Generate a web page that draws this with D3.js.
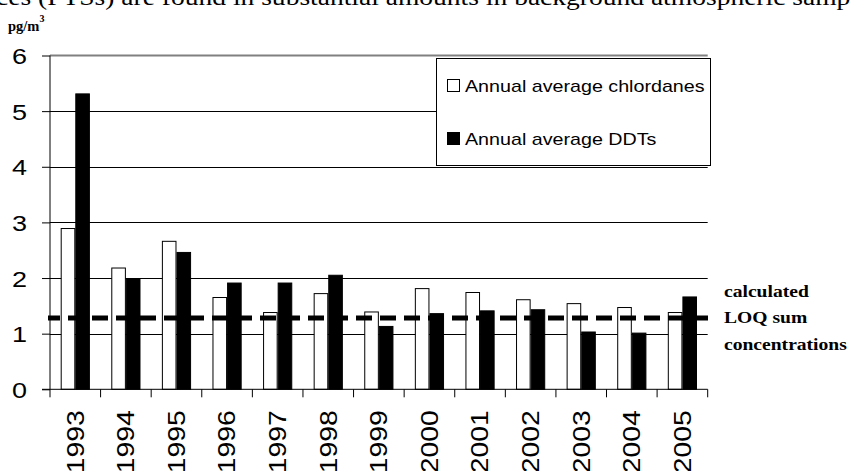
<!DOCTYPE html>
<html><head><meta charset="utf-8">
<script src="https://cdn.jsdelivr.net/npm/d3@7"></script>
<style>html,body{margin:0;padding:0;background:#fff;overflow:hidden}</style>
</head><body>
<svg id="chart" width="850" height="471"></svg>
<script>
const years = ["1993","1994","1995","1996","1997","1998","1999","2000","2001","2002","2003","2004","2005"];
const chlordanes = [2.89,2.18,2.66,1.65,1.38,1.72,1.39,1.81,1.74,1.61,1.54,1.47,1.38];
const ddts = [5.31,1.99,2.46,1.91,1.91,2.05,1.13,1.36,1.41,1.43,1.03,1.01,1.66];
const seriesNames = ["Annual average chlordanes","Annual average DDTs"];
const seriesFill = ["#ffffff","#000000"];
const yTicks = [0,1,2,3,4,5,6];
const loqValue = 1.28;
const loqLabel = ["calculated","LOQ sum","concentrations"];

const svg = d3.select("#chart");
const x0 = 50, x1 = 707.7, yTop = 55.5, yBot = 389.3;
const x = d3.scaleBand().domain(years).range([x0, x1]).paddingInner(0).paddingOuter(0);
const xs = d3.scaleBand().domain([0,1]).range([0, x.bandwidth()]).paddingInner(0).paddingOuter(0.733);
const y = d3.scaleLinear().domain([0,6]).range([yBot, yTop]);

// clipped document text at top
svg.append("text").attr("x",-4).attr("y",4.5)
  .attr("font-family","Liberation Serif, Times New Roman, serif").attr("font-size",23)
  .attr("textLength",862).attr("lengthAdjust","spacingAndGlyphs").attr("fill","#000")
  .text("ces (PTSs) are found in substantial amounts in background atmospheric sampl");

// unit label
const unit = svg.append("text").attr("x",8).attr("y",31)
  .attr("font-family","Liberation Serif, Times New Roman, serif").attr("font-weight","bold").attr("font-size",14.5);
unit.append("tspan").text("pg/m");
unit.append("tspan").attr("dy",-9).attr("font-size",10).text("3");

// gridlines
svg.append("g").selectAll("line").data(yTicks.filter(d=>d>0 && d<6)).join("line")
  .attr("x1",x0).attr("x2",x1).attr("y1",d=>Math.round(y(d))+0.5).attr("y2",d=>Math.round(y(d))+0.5)
  .attr("stroke","#000").attr("stroke-width",1);
svg.append("line").attr("x1",x0).attr("x2",x1).attr("y1",y(6)).attr("y2",y(6))
  .attr("stroke","#808080").attr("stroke-width",2);

// bars
const data = years.map((yr,i)=>({yr, vals:[chlordanes[i], ddts[i]]}));
const groups = svg.append("g").selectAll("g").data(data).join("g")
  .attr("transform",d=>`translate(${x(d.yr)},0)`);
groups.selectAll("rect").data(d=>d.vals.map((v,k)=>({v,k}))).join("rect")
  .attr("x",d=>xs(d.k)+0.5).attr("width",xs.bandwidth()-1)
  .attr("y",d=>y(d.v)).attr("height",d=>yBot-y(d.v))
  .attr("fill",d=>seriesFill[d.k]).attr("stroke","#000").attr("stroke-width",1);

// axes
const yAxis = d3.axisLeft(y).tickValues(yTicks).tickSize(8).tickFormat(d3.format("d"));
const gy = svg.append("g").attr("transform",`translate(${x0},0)`).call(yAxis);
gy.select(".domain").attr("stroke","#000").attr("d",`M0,${yTop}V${yBot}`);
gy.selectAll(".tick line").attr("stroke","#000");
gy.selectAll(".tick text").attr("font-family","Liberation Sans, Arial, sans-serif").attr("font-size",22.5)
  .attr("fill","#000").attr("x",-23).attr("dy","0.36em").attr("text-anchor","end")
  .attr("transform","translate(-23,0) scale(1.2,1) translate(23,0)");

const xAxis = d3.axisBottom(x).tickSize(0).tickFormat("");
const gx = svg.append("g").attr("transform",`translate(0,${yBot})`).call(xAxis);
gx.select(".domain").attr("stroke","#000").attr("d",`M${x0-8},0H${x1}`);
const bounds = years.map(yr=>x(yr)).concat([x1]);
gx.append("g").selectAll("line").data(bounds).join("line")
  .attr("x1",d=>d).attr("x2",d=>d).attr("y1",0).attr("y2",8).attr("stroke","#000");
gx.append("g").selectAll("text").data(years).join("text")
  .attr("transform",d=>`translate(${x(d)+x.bandwidth()/2},21) rotate(-90)`)
  .attr("text-anchor","end").attr("dy","0.36em")
  .attr("font-family","Liberation Sans, Arial, sans-serif").attr("font-size",23)
  .attr("textLength",63).attr("lengthAdjust","spacingAndGlyphs").attr("fill","#000")
  .text(d=>d);

// LOQ dashed line
svg.append("line").attr("x1",48).attr("x2",711).attr("y1",y(loqValue)).attr("y2",y(loqValue))
  .attr("stroke","#000").attr("stroke-width",5).attr("stroke-dasharray","16,8").attr("stroke-dashoffset",4);

svg.append("g").selectAll("text").data(loqLabel).join("text")
  .attr("transform",(d,i)=>`translate(724,${296.7+i*26.7}) scale(1.18,1)`)
  .attr("font-family","Liberation Serif, Times New Roman, serif").attr("font-weight","bold").attr("font-size",16.6)
  .attr("fill","#000").text(d=>d);

// legend
const lg = svg.append("g");
lg.append("rect").attr("x",436.5).attr("y",58.5).attr("width",274).attr("height",107)
  .attr("fill","#fff").attr("stroke","#000").attr("stroke-width",1);
const items = lg.selectAll("g").data(seriesNames).join("g")
  .attr("transform",(d,i)=>`translate(0,${86+i*53})`);
items.append("rect").attr("x",447.5).attr("y",-6.5).attr("width",12).attr("height",12)
  .attr("fill",(d,i)=>seriesFill[i]).attr("stroke","#000").attr("stroke-width",1);
items.append("text").attr("transform","translate(465,0) scale(1.2,1)").attr("dy","0.36em")
  .attr("font-family","Liberation Sans, Arial, sans-serif").attr("font-size",16.4).attr("fill","#000")
  .text(d=>d);
</script>
</body></html>
